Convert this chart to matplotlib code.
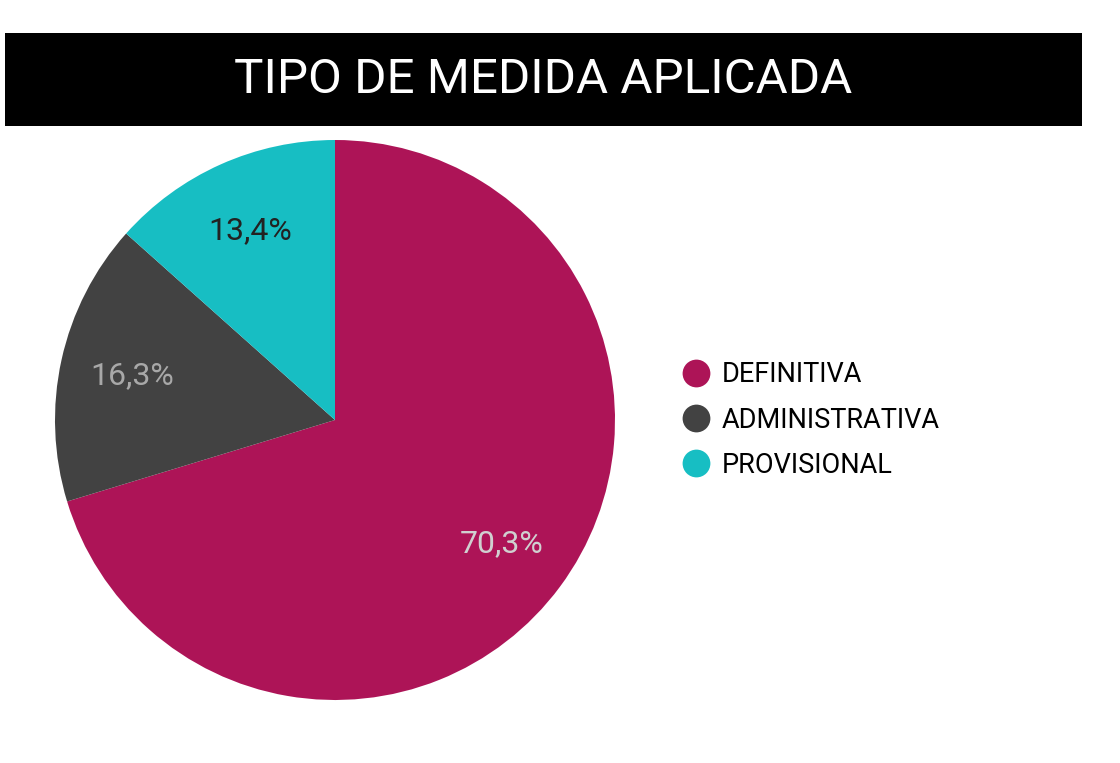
import matplotlib.pyplot as plt
from matplotlib.patches import Rectangle
from matplotlib.lines import Line2D

plt.rcParams['font.family'] = ['Roboto', 'DejaVu Sans']

title = "TIPO DE MEDIDA APLICADA"
labels = ["DEFINITIVA", "ADMINISTRATIVA", "PROVISIONAL"]
values = [70.3, 16.3, 13.4]
colors = ["#AD1457", "#424242", "#17BEC3"]
pct_colors = ["#d0d0d0", "#a8a8a8", "#222222"]

W, H = 1120, 763
fig = plt.figure(figsize=(W / 100, H / 100), dpi=100)

# black title band
fig.patches.append(Rectangle((5 / W, 1 - 126 / H), 1077 / W, 93 / H,
                             transform=fig.transFigure, facecolor="black",
                             edgecolor="none", zorder=0))
fig.text(543 / W, 1 - 80 / H, title, color="white", fontsize=35.5,
         ha="center", va="center")

# pie area: center (335, 420), radius 280 px
ax = fig.add_axes([55 / W, 1 - 700 / H, 560 / W, 560 / H])
wedges, texts, autotexts = ax.pie(
    values, colors=colors, startangle=90, counterclock=False,
    autopct=lambda p: f"{p:.1f}".replace(".", ",") + "%",
    pctdistance=0.74, radius=1,
    wedgeprops=dict(linewidth=0),
)
for t, c in zip(autotexts, pct_colors):
    t.set_color(c)
    t.set_fontsize(23)
ax.set_xlim(-1, 1)
ax.set_ylim(-1, 1)
ax.set_aspect("equal")
ax.axis("off")

handles = [Line2D([], [], marker="o", linestyle="none", markersize=20,
                  markerfacecolor=c, markeredgecolor="none") for c in colors]
fig.legend(handles, labels, loc="center left",
           bbox_to_anchor=(682 / W, 1 - 420 / H), frameon=False,
           fontsize=19.5, handletextpad=0.46, labelspacing=0.68,
           handlelength=1.0, borderaxespad=0, borderpad=0)

fig.savefig("out.png", dpi=100, facecolor="white")
